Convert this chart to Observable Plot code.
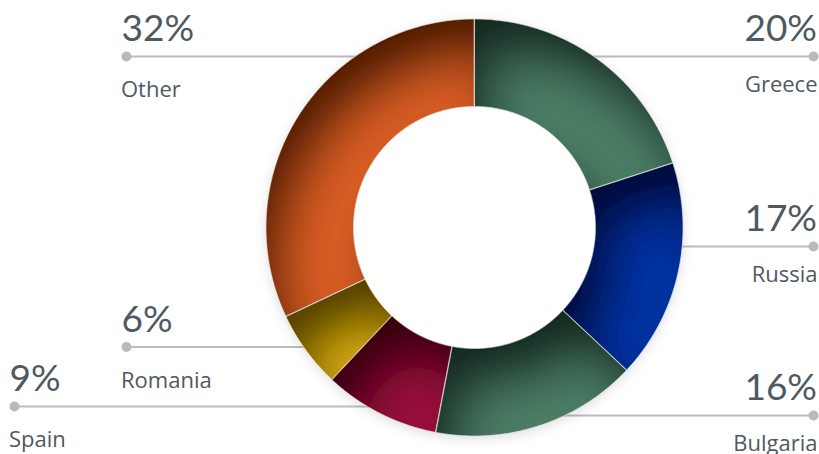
<!DOCTYPE html>
<html>
<head>
<meta charset="utf-8">
<script src="https://cdn.jsdelivr.net/npm/d3@7"></script>
<script src="https://cdn.jsdelivr.net/npm/@observablehq/plot@0.6"></script>
<style>
  html, body { margin: 0; padding: 0; background: #ffffff; }
  #chart { width: 819px; height: 454px; }
</style>
</head>
<body>
<div id="chart"></div>
<script>
// ---- data ----
const categories = ["Greece", "Russia", "Bulgaria", "Spain", "Romania", "Other"];
const shares = [20, 17, 16, 9, 6, 32];
const baseColors = ["#4d8068", "#0034a6", "#4d8068", "#a0183f", "#e6b715", "#dc5f25"];
const labelSide = ["right", "right", "right", "left", "left", "left"];

// ---- layout ----
const W = 819, H = 454;
const cx = 474, cy = 227, R = 208.5, r0 = 121;
const labelDotX = [813, 813, 813, 14, 126, 126];
const labelLineY = [56, 246, 415, 406, 346.5, 56];

// slice outlines computed from the shares
const total = d3.sum(shares);
const ends = d3.cumsum(shares);
const steps = 120;
const slices = categories.map((c, i) => {
  const a0 = (ends[i] - shares[i]) / total * 2 * Math.PI;
  const a1 = ends[i] / total * 2 * Math.PI;
  const pts = [];
  for (let k = 0; k <= steps; k++) {
    const a = a0 + (a1 - a0) * k / steps;
    pts.push({x: cx + R * Math.sin(a), y: cy - R * Math.cos(a)});
  }
  for (let k = steps; k >= 0; k--) {
    const a = a0 + (a1 - a0) * k / steps;
    pts.push({x: cx + r0 * Math.sin(a), y: cy - r0 * Math.cos(a)});
  }
  return pts;
});
const diskPts = d3.range(0, 361).map(k => ({
  x: cx + R * Math.sin(k / 360 * 2 * Math.PI),
  y: cy - R * Math.cos(k / 360 * 2 * Math.PI)
}));

const labels = categories.map((c, i) => ({
  name: c, pct: shares[i], side: labelSide[i], dotX: labelDotX[i], lineY: labelLineY[i]
}));
const leaders = labels.flatMap(d => [{name: d.name, x: d.dotX, y: d.lineY}, {name: d.name, x: cx, y: d.lineY}]);

const textColor = "#4f5961";
const pctFont = "Lato, 'Open Sans', sans-serif";
const nameFont = "'Open Sans', Lato, sans-serif";
const right = labels.filter(d => d.side === "right");
const left = labels.filter(d => d.side === "left");

const chart = Plot.plot({
  width: W, height: H, margin: 0,
  x: {domain: [0, W], range: [0, W], axis: null},
  y: {domain: [0, H], range: [0, H], axis: null},
  style: {background: "#ffffff", fontFamily: pctFont},
  marks: [
    Plot.line(leaders, {x: "x", y: "y", z: "name", stroke: "#bbbcbe", strokeWidth: 2}),
    Plot.dot(labels, {x: "dotX", y: "lineY", r: 5, fill: "#b8babd", stroke: "none"}),
    Plot.line(diskPts, {x: "x", y: "y", fill: "#ffffff", stroke: "none", curve: "linear-closed"}),
    ...slices.map((pts, i) => Plot.line(pts, {x: "x", y: "y", fill: baseColors[i], stroke: "none", curve: "linear-closed"})),
    ...slices.map((pts, i) => Plot.line(pts, {x: "x", y: "y", fill: "none", stroke: "#dcdcdc", strokeWidth: 0.7, curve: "linear-closed"})),
    Plot.text(right, {x: d => d.dotX + 3.5, y: d => d.lineY - 15.5, text: d => d.pct + "%", textAnchor: "end", lineAnchor: "bottom", fontSize: 37, fill: textColor, fontFamily: pctFont}),
    Plot.text(right, {x: d => d.dotX + 4, y: d => d.lineY + 35.5, text: "name", textAnchor: "end", lineAnchor: "bottom", fontSize: 22, fill: textColor, fontFamily: nameFont}),
    Plot.text(left, {x: d => d.dotX - 5, y: d => d.lineY - 15.5, text: d => d.pct + "%", textAnchor: "start", lineAnchor: "bottom", fontSize: 37, fill: textColor, fontFamily: pctFont}),
    Plot.text(left, {x: d => d.dotX - 5.5, y: d => d.lineY + 40.5, text: "name", textAnchor: "start", lineAnchor: "bottom", fontSize: 22, fill: textColor, fontFamily: nameFont})
  ]
});

// shadow and inner shading filters
const ns = "http://www.w3.org/2000/svg";
const defs = document.createElementNS(ns, "defs");
defs.innerHTML = `
<filter id="ringShadow" x="-20%" y="-20%" width="140%" height="140%">
  <feDropShadow dx="0" dy="3" stdDeviation="6" flood-color="#000" flood-opacity="0.13"/>
</filter>
<filter id="innerShade" x="-40%" y="-40%" width="180%" height="180%">
  <feOffset in="SourceAlpha" dx="20" dy="40" result="off"/>
  <feGaussianBlur in="off" stdDeviation="26" result="blur"/>
  <feComposite in="SourceAlpha" in2="blur" operator="arithmetic" k2="1" k3="-1" result="mask"/>
  <feFlood flood-color="#000" flood-opacity="0.9" result="col"/>
  <feComposite in="col" in2="mask" operator="in" result="shade"/>
  <feMerge><feMergeNode in="SourceGraphic"/><feMergeNode in="shade"/></feMerge>
</filter>`;
chart.insertBefore(defs, chart.firstChild);
const lineGroups = chart.querySelectorAll('g[aria-label="line"]');
if (lineGroups[1]) lineGroups[1].setAttribute("filter", "url(#ringShadow)");
for (let i = 0; i < categories.length; i++) {
  const g = lineGroups[2 + i];
  if (g) g.setAttribute("filter", "url(#innerShade)");
}

document.getElementById("chart").appendChild(chart);
</script>
</body>
</html>
